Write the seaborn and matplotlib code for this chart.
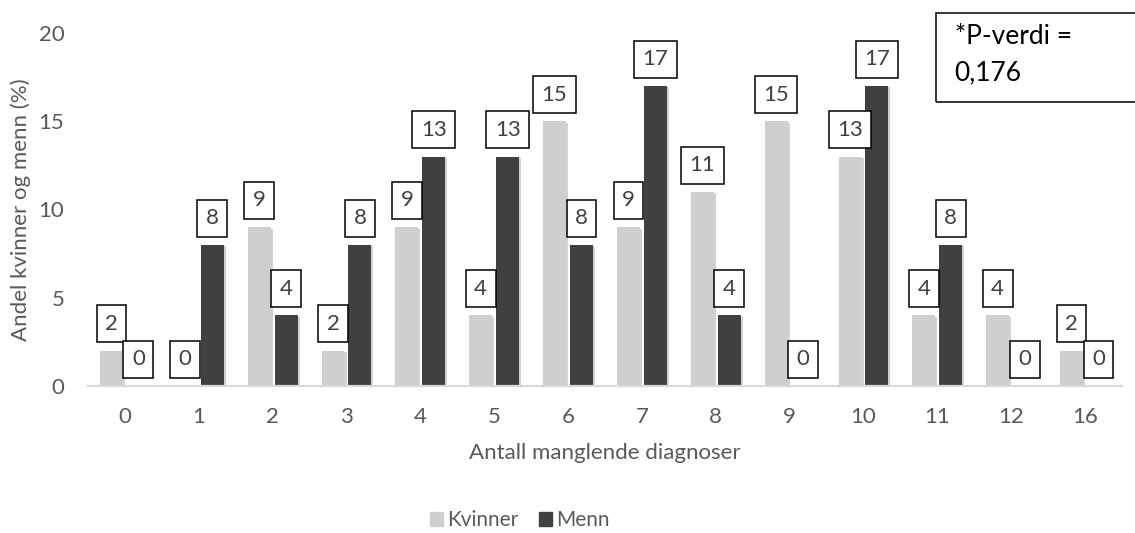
import matplotlib
matplotlib.use("Agg")
import matplotlib.pyplot as plt
import matplotlib.patheffects as pe
from matplotlib.patches import Patch
import pandas as pd
import seaborn as sns

categories = ["0", "1", "2", "3", "4", "5", "6", "7", "8", "9", "10", "11", "12", "16"]
kvinner = [2, 0, 9, 2, 9, 4, 15, 9, 11, 15, 13, 4, 4, 2]
menn = [0, 8, 4, 8, 13, 13, 8, 17, 4, 0, 17, 8, 0, 0]
series_names = ["Kvinner", "Menn"]
series_colors = ["#d0cece", "#404040"]
yticks = [0, 5, 10, 15, 20]

sns.set_theme(style="white")
plt.rcParams["font.family"] = ["Lato", "DejaVu Sans"]
text_color = "#595959"

df = pd.DataFrame({
    "kategori": categories * 2,
    "verdi": kvinner + menn,
    "kjonn": [series_names[0]] * len(categories) + [series_names[1]] * len(categories),
})

fig = plt.figure(figsize=(11.35, 5.33), dpi=100)
ax = fig.add_axes([0.0775, 0.276, 0.911, 0.662])

sns.barplot(data=df, x="kategori", y="verdi", hue="kjonn", order=categories,
            hue_order=series_names, palette=series_colors, width=0.73, gap=0.15,
            linewidth=0, saturation=1, legend=False, ax=ax)

shadow = [pe.SimplePatchShadow(offset=(1.5, -1.0), shadow_rgbFace="#808080", alpha=0.35),
          pe.Normal()]
for bar in ax.patches:
    bar.set_path_effects(shadow)

# Boxed value labels above each bar
for container, values in zip(ax.containers, [kvinner, menn]):
    for bar, v in zip(container, values):
        cx = bar.get_x() + bar.get_width() / 2
        ax.annotate(f"{v}", xy=(cx, v), xytext=(0, 12), textcoords="offset points",
                    ha="center", va="bottom", fontsize=16, color="#404040",
                    bbox=dict(boxstyle="square,pad=0.38", fc="white", ec="black", lw=1.1),
                    annotation_clip=False, zorder=5)

ax.set_ylim(0, 20)
ax.set_yticks(yticks)
ax.set_xlim(-0.5, len(categories) - 0.5)
ax.tick_params(axis="both", length=0, labelsize=16, labelcolor=text_color)
ax.tick_params(axis="y", pad=17)
ax.tick_params(axis="x", pad=15)
for side in ["top", "right", "left"]:
    ax.spines[side].set_visible(False)
ax.spines["bottom"].set_color("#d9d9d9")
ax.spines["bottom"].set_linewidth(1.6)
ax.grid(False)

ax.set_xlabel("Antall manglende diagnoser", fontsize=16, color=text_color, labelpad=12)
ax.set_ylabel("Andel kvinner og menn (%)", fontsize=16, color=text_color)
ax.yaxis.set_label_coords(-0.055, 0.5)

# P-value box in the upper right corner
fig.text(0.841, 0.955, "*P-verdi =\n0,176", fontsize=19, color="black", ha="left", va="top",
         linespacing=1.55)
box = plt.Rectangle((0.8246, 0.808), 0.2, 0.168, transform=fig.transFigure,
                    fill=False, ec="black", lw=1.1, clip_on=False)
fig.add_artist(box)

handles = [Patch(color=c, label=n) for c, n in zip(series_colors, series_names)]
fig.legend(handles=handles, loc="lower center", bbox_to_anchor=(0.458, -0.03), ncol=2,
           frameon=False, fontsize=15, labelcolor=text_color, handlelength=0.6,
           handleheight=0.6, handletextpad=0.2, columnspacing=1.0)

fig.savefig("out.png", dpi=100)
